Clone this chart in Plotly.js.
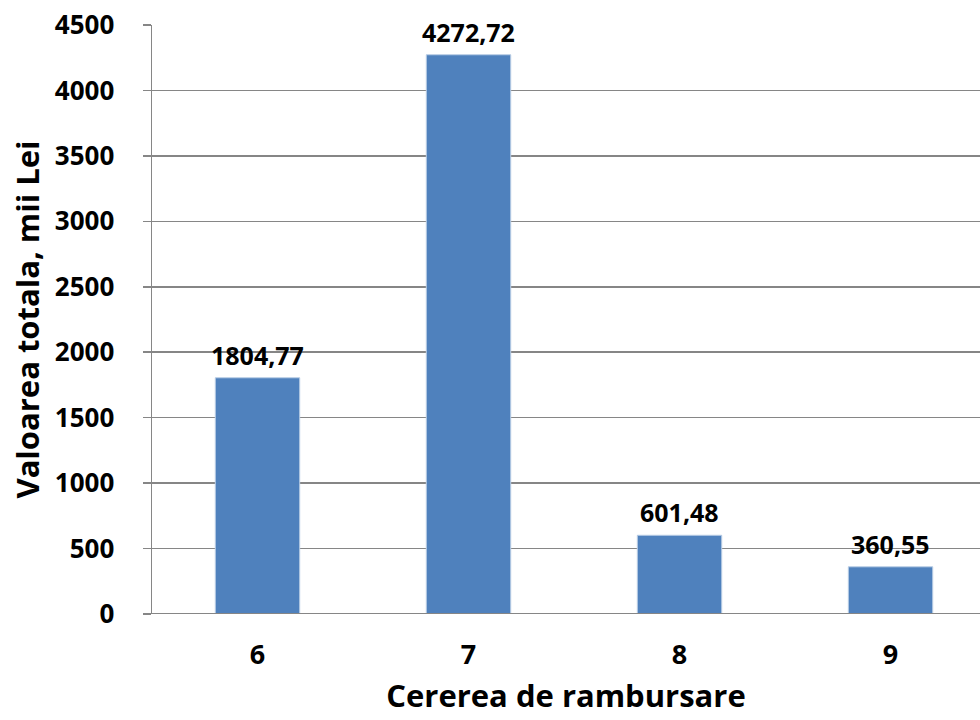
<!DOCTYPE html>
<html><head><meta charset="utf-8">
<script src="https://cdn.plot.ly/plotly-3.0.1.min.js"></script>
<style>html,body{margin:0;padding:0;background:#fff;}</style>
</head><body>
<div id="chart" style="width:980px;height:720px;"></div>
<script>
const categories = [6, 7, 8, 9];
const values = [1804.77, 4272.72, 601.48, 360.55];
const labels = ["1804,77", "4272,72", "601,48", "360,55"];
const yTicks = [0, 500, 1000, 1500, 2000, 2500, 3000, 3500, 4000, 4500];

const fontFam = "Open Sans, Noto Sans, sans-serif";
const trace = {
  type: 'bar', x: categories, y: values, width: 0.4,
  marker: {color: '#4F81BD', line: {color: '#B9CDE5', width: 1}},
  hoverinfo: 'none'
};
const annotations = categories.map((c, i) => ({
  x: c, y: values[i], xref: 'x', yref: 'y', text: labels[i],
  showarrow: false, yanchor: 'bottom', yshift: 4,
  font: {family: fontFam, size: 25, color: '#000', weight: 700}
}));
const layout = {
  width: 980, height: 720,
  margin: {l: 152, r: 0, t: 25, b: 106},
  paper_bgcolor: '#fff', plot_bgcolor: '#fff',
  showlegend: false,
  font: {family: fontFam, color: '#000'},
  annotations: annotations,
  xaxis: {
    range: [5.5, 9.424], tickvals: categories, ticktext: categories.map(String),
    showgrid: false, zeroline: false, showline: false, ticks: '',
    tickfont: {family: fontFam, size: 27, weight: 700},
    ticklabelstandoff: 22,
    title: {text: 'Cererea de rambursare', font: {family: fontFam, size: 31, weight: 700}, standoff: 14}
  },
  yaxis: {
    range: [0, 4500], tickvals: yTicks, ticktext: yTicks.map(String),
    showgrid: true, gridcolor: '#868686', gridwidth: 1.5,
    zeroline: false, showline: true, linecolor: '#868686', linewidth: 1.5,
    ticks: 'outside', ticklen: 8, tickcolor: '#868686', tickwidth: 1.5,
    tickfont: {family: fontFam, size: 26, weight: 700},
    ticklabelstandoff: 23,
    title: {text: 'Valoarea totala, mii Lei', font: {family: fontFam, size: 31, weight: 700}, standoff: 6}
  },
  shapes: [{type: 'line', xref: 'paper', yref: 'y', x0: 0, x1: 1, y0: 0, y1: 0, line: {color: '#868686', width: 2}}]
};
Plotly.newPlot('chart', [trace], layout, {displayModeBar: false, staticPlot: true});
</script>
</body></html>
